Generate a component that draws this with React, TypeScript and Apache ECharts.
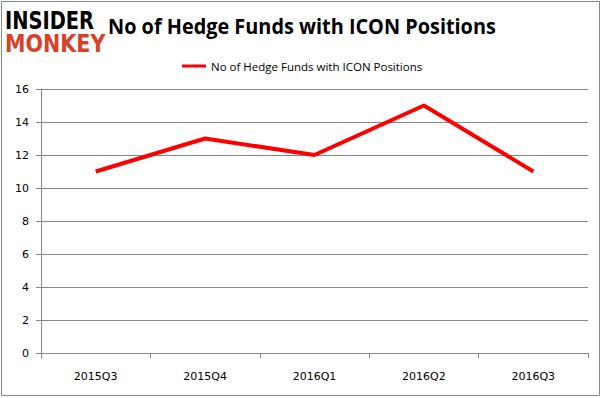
import React, { useEffect, useRef } from "react";
import * as echarts from "echarts";

const categories = ["2015Q3", "2015Q4", "2016Q1", "2016Q2", "2016Q3"];
const hedgeFunds = [11, 13, 12, 15, 11];
const seriesName = "No of Hedge Funds with ICON Positions";
const titleText = "No of Hedge Funds with ICON Positions";

export default function App() {
  const ref = useRef<HTMLDivElement>(null);
  useEffect(() => {
    document.body.style.margin = "0";
    const chart = echarts.init(ref.current!, null, { renderer: "svg" });
    chart.setOption({
      animation: false,
      backgroundColor: "#ffffff",
      grid: { left: 41, right: 14, top: 89, bottom: 45 },
      legend: {
        left: 177,
        top: 55,
        itemWidth: 24,
        itemHeight: 3,
        itemGap: 6,
        icon: "rect",
        textStyle: { fontSize: 11.5, color: "#000", fontFamily: "Open Sans" },
        data: [seriesName],
      },
      xAxis: {
        type: "category",
        data: categories,
        boundaryGap: true,
        axisLine: { lineStyle: { color: "#888", width: 1 } },
        axisTick: { show: true, alignWithLabel: false, length: 5, lineStyle: { color: "#888" } },
        axisLabel: { color: "#000", fontSize: 11, fontFamily: "DejaVu Sans", margin: 18 },
        splitLine: { show: false },
      },
      yAxis: {
        type: "value",
        min: 0,
        max: 16,
        interval: 2,
        axisLine: { show: true, lineStyle: { color: "#888", width: 1 } },
        axisTick: { show: true, length: 5, inside: false, lineStyle: { color: "#888" } },
        axisLabel: { color: "#000", fontSize: 11, fontFamily: "DejaVu Sans", margin: 12 },
        splitLine: { show: true, lineStyle: { color: "#888", width: 1 } },
      },
      series: [
        {
          name: seriesName,
          type: "line",
          data: hedgeFunds,
          symbol: "none",
          lineStyle: { color: "#ff0000", width: 4 },
          itemStyle: { color: "#ff0000" },
        },
      ],
      graphic: [
        {
          type: "rect",
          shape: { x: 1.5, y: 1.5, width: 598, height: 394 },
          style: { fill: "none", stroke: "#888", lineWidth: 1 },
          silent: true,
        },
        {
          type: "text",
          x: 5,
          y: 9,
          scaleX: 0.81,
          style: {
            text: "INSIDER",
            font: "bold 24px 'DejaVu Sans'",
            fill: "#000",
            textVerticalAlign: "top",
          },
        },
        {
          type: "text",
          x: 5,
          y: 31,
          scaleX: 0.86,
          style: {
            text: "MONKEY",
            font: "bold 24px 'DejaVu Sans'",
            fill: "#d8402a",
            textVerticalAlign: "top",
          },
        },
        {
          type: "text",
          x: 108,
          y: 26,
          scaleX: 0.946,
          style: {
            text: titleText,
            font: "bold 21px 'Open Sans'",
            fill: "#000",
            textVerticalAlign: "middle",
          },
        },
      ],
    });
    return () => chart.dispose();
  }, []);
  return (
    <div
      ref={ref}
      style={{ position: "fixed", left: 0, top: 0, width: 602, height: 398 }}
    />
  );
}
